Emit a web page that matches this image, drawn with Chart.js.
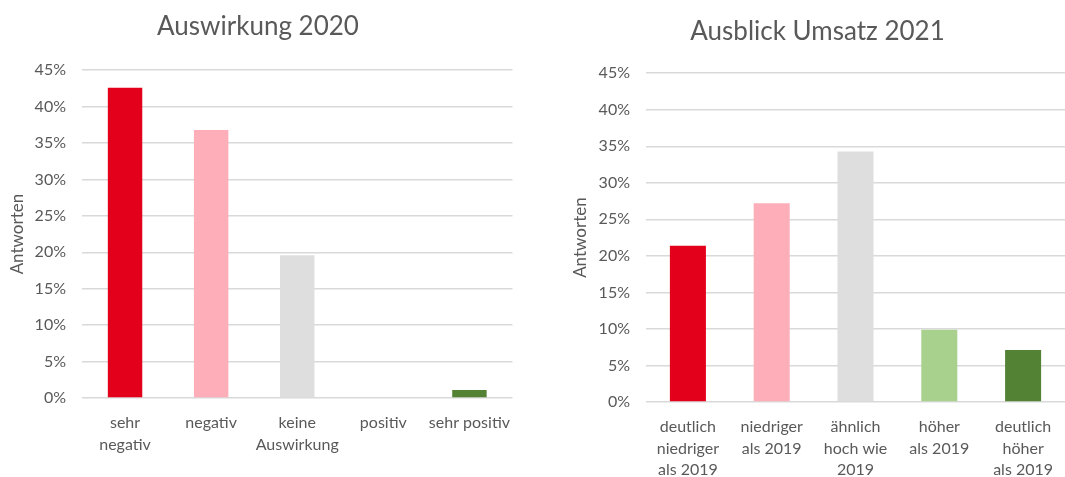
<!DOCTYPE html>
<html>
<head>
<meta charset="utf-8">
<script src="https://cdn.jsdelivr.net/npm/chart.js@4.4.0/dist/chart.umd.min.js"></script>
<style>
  body { margin: 0; background: #fff; width: 1065px; height: 477px; position: relative; overflow: hidden; }
  canvas { position: absolute; top: 0; }
  #leftChart { left: 0; }
  #rightChart { left: 570px; }
</style>
</head>
<body>
<canvas id="leftChart" width="516" height="477"></canvas>
<canvas id="rightChart" width="495" height="477"></canvas>
<script>
// Auswirkung 2020
const impactLabels = [['sehr', 'negativ'], 'negativ', ['keine', 'Auswirkung'], 'positiv', 'sehr positiv'];
const impactValues = [42.6, 36.8, 19.6, 0, 1.1];

// Ausblick Umsatz 2021
const outlookLabels = [['deutlich', 'niedriger', 'als 2019'], ['niedriger', 'als 2019'], ['ähnlich', 'hoch wie', '2019'], ['höher', 'als 2019'], ['deutlich', 'höher', 'als 2019']];
const outlookValues = [21.4, 27.2, 34.3, 9.9, 7.1];

const barColors = ['#e3001b', '#fdaeb9', '#dedede', '#a9d18e', '#548235'];
const textColor = '#595959';
const fontFamily = 'Lato, "Noto Sans", sans-serif';

function makeChart(id, labels, values, title, opts) {
    const ctx = document.getElementById(id).getContext('2d');
    return new Chart(ctx, {
        type: 'bar',
        data: {
            labels: labels,
            datasets: [{
                data: values,
                backgroundColor: barColors,
                barPercentage: opts.barPct,
                categoryPercentage: 1
            }]
        },
        options: {
            responsive: false,
            animation: false,
            layout: { padding: { right: opts.padRight, bottom: 0, left: 0, top: 0 } },
            plugins: {
                legend: { display: false },
                tooltip: { enabled: false },
                title: {
                    display: true,
                    text: title,
                    color: textColor,
                    font: { family: fontFamily, size: 26, weight: 'normal' },
                    padding: { top: opts.titleTop, bottom: opts.titleBottom }
                }
            },
            scales: {
                y: {
                    min: 0,
                    max: 45,
                    ticks: {
                        stepSize: 5,
                        color: textColor,
                        padding: 16,
                        font: { family: fontFamily, size: 16 },
                        callback: v => v + '%'
                    },
                    grid: { color: '#d9d9d9', lineWidth: 1.5, drawTicks: false },
                    border: { display: false },
                    title: {
                        display: true,
                        text: 'Antworten',
                        color: textColor,
                        font: { family: fontFamily, size: 17 },
                        padding: { top: opts.axisTitleTop, bottom: 0 }
                    },
                    afterFit: scale => { scale.width = opts.yWidth; }
                },
                x: {
                    ticks: {
                        color: textColor,
                        padding: 6,
                        maxRotation: 0,
                        autoSkip: false,
                        font: { family: fontFamily, size: 16, lineHeight: 1.35 }
                    },
                    grid: { display: false },
                    border: { display: false },
                    afterFit: scale => { scale.height = opts.xHeight; }
                }
            }
        }
    });
}

makeChart('leftChart', impactLabels, impactValues, 'Auswirkung 2020', {
    barPct: 0.4, padRight: 0, titleTop: 11, titleBottom: 28, axisTitleTop: 7, yWidth: 82, xHeight: 79
});
makeChart('rightChart', outlookLabels, outlookValues, 'Ausblick Umsatz 2021', {
    barPct: 0.43, padRight: 0, titleTop: 16, titleBottom: 26, axisTitleTop: 0, yWidth: 76, xHeight: 75
});
</script>
</body>
</html>
